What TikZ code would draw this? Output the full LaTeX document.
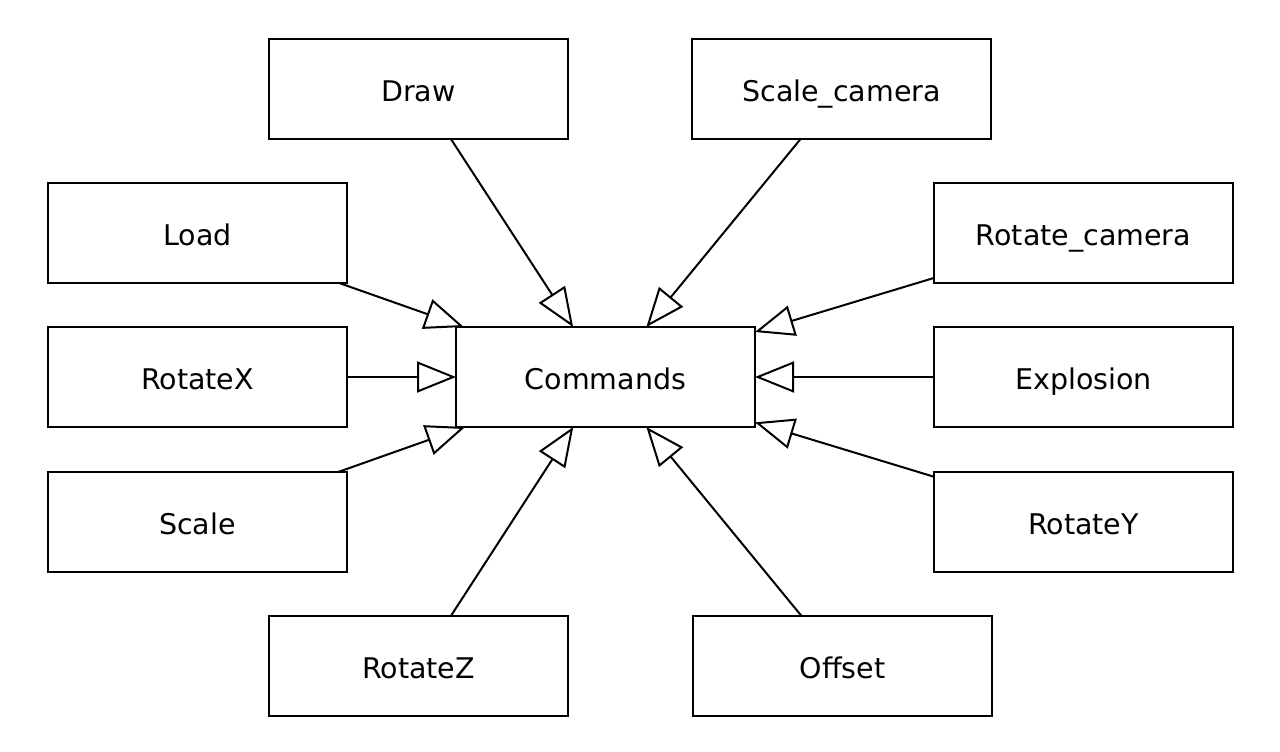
\documentclass[tikz,border=0pt]{standalone}
\usepackage{fontspec}
\setmainfont{DejaVu Sans}
\usetikzlibrary{arrows.meta}
\begin{document}
\begin{tikzpicture}[x=1pt,y=-1pt,
  box/.style={draw,line width=2pt,minimum width=299pt,minimum height=100pt,inner sep=0pt,outer sep=0pt,text height=26pt,text depth=1.8pt,font=\fontsize{28.5}{34}\selectfont},
  gen/.style={line width=2pt,-{Triangle[open,length=39pt,width=31pt,line width=2pt]}}]
\useasboundingbox (0,0) rectangle (1280,752);
\node[box] (cmd) at (605.5,377) {Commands};
\node[box] (draw) at (418.5,89) {Draw};
\node[box] (scam) at (841.5,89) {Scale\_camera};
\node[box] (load) at (197.5,233) {Load};
\node[box] (rcam) at (1083.5,233) {Rotate\_camera};
\node[box] (rx) at (197.5,377) {RotateX};
\node[box] (expl) at (1083.5,377) {Explosion};
\node[box] (scale) at (197.5,522) {Scale};
\node[box] (ry) at (1083.5,522) {RotateY};
\node[box] (rz) at (418.5,666) {RotateZ};
\node[box] (off) at (842.5,666) {Offset};
\foreach \n in {draw,scam,load,rcam,rx,expl,scale,ry,rz,off}
  \draw[gen] (\n) -- (cmd);
\end{tikzpicture}
\end{document}
